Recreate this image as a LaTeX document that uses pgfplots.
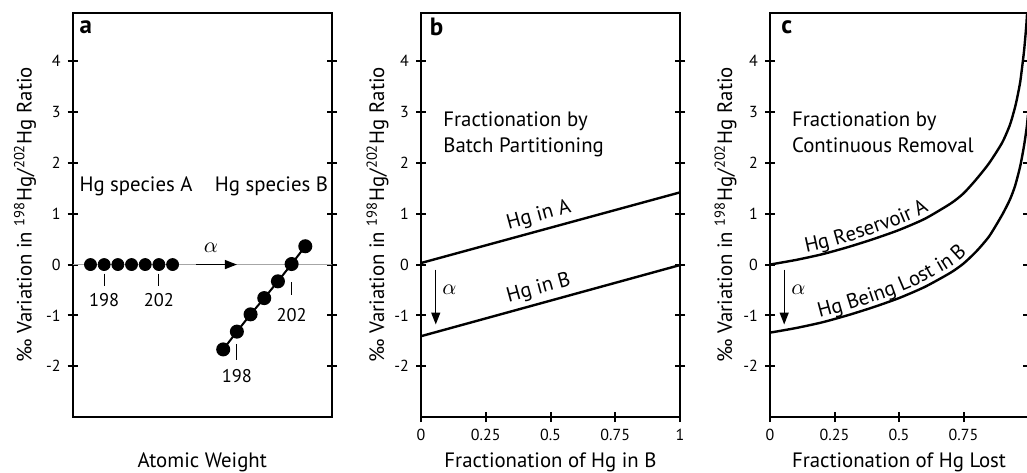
\documentclass[border=0pt]{standalone}
\usepackage{pgfplots}
\pgfplotsset{compat=1.18}
\usepackage{fontspec}
\setmainfont{PT Sans}
\usetikzlibrary{arrows.meta,decorations.text}

\newcommand{\lblfont}{\fontsize{10.4}{12}\selectfont}
\newcommand{\numfont}{\fontsize{9.2}{10}\selectfont}

\pgfplotsset{
  panel/.style={
    scale only axis, width=129.5pt, height=202pt, anchor=south west,
    ymin=-3, ymax=4.95, ytick={-2,-1,0,1,2,3,4}, yticklabel pos=left,
    tick align=center, major tick length=5pt,
    tick style={black, line width=1pt},
    axis line style={line width=1pt},
    tick label style={font=\fontsize{8}{9}\selectfont},
    label style={font=\lblfont},
    /pgf/number format/assume math mode=true,
    xlabel style={at={(axis description cs:0.5,-0.111)}, anchor=center},
    ylabel={‰ Variation in \textsuperscript{198}Hg/\textsuperscript{202}Hg Ratio},
  },
  frac/.style={
    xmin=0, xmax=1, xtick={0,0.25,0.5,0.75,1},
    xticklabels={0,0.25,0.5,0.75,1}, xtick pos=lower,
  },
}

\begin{document}
\begin{tikzpicture}
\path[use as bounding box] (0,0) rectangle (513.5pt,236pt);
\clip (0,0) rectangle (513.5pt,236pt);

% a
\begin{axis}[panel, at={(36.35pt,27.5pt)},
  xmin=0, xmax=18.93, xtick=\empty,
  xlabel={Atomic Weight},
  ylabel style={at={(axis description cs:-0.184,0.5)}, anchor=center}]
\addplot[gray!70, line width=0.5pt] coordinates {(0,0) (18.93,0)};
\addplot[only marks, mark=*, mark size=3pt, black] coordinates {
  (1.3,0) (2.3,0) (3.3,0) (4.3,0) (5.3,0) (6.3,0) (7.3,0)};
\addplot[black, line width=1pt, mark=*, mark size=3pt] coordinates {
  (11,-1.67) (12,-1.32) (13,-0.98) (14,-0.66) (15,-0.33) (16,0.01) (17,0.36)};
\draw[line width=0.6pt] (2.3,-0.18) -- (2.3,-0.43);
\draw[line width=0.6pt] (6.3,-0.18) -- (6.3,-0.43);
\draw[line width=0.6pt] (12,-1.56) -- (12,-1.87);
\draw[line width=0.6pt] (16,-0.35) -- (16,-0.59);
\node[font=\numfont] at (2.3,-0.69) {198};
\node[font=\numfont] at (6.3,-0.69) {202};
\node[font=\numfont] at (12,-2.19) {198};
\node[font=\numfont] at (16,-1.0) {202};
\draw[-{Triangle[length=6pt,width=4.5pt]}, line width=0.7pt] (9.0,0) -- (12.0,0);
\node at (10.1,0.33) {\fontsize{11}{12}\selectfont$\alpha$};
\node[font=\lblfont] at (4.63,1.54) {Hg species A};
\node[font=\lblfont] at (14.53,1.54) {Hg species B};
\node[font=\fontsize{12.5}{14}\selectfont\bfseries] at (rel axis cs:0.051,0.965) {a};
\end{axis}

% b
\begin{axis}[panel, frac, at={(210.5pt,27.5pt)},
  xlabel={Fractionation of Hg in B},
  ylabel style={at={(axis description cs:-0.168,0.5)}, anchor=center}]
\addplot[black, line width=1.2pt] coordinates {(0,0.03) (1,1.42)}
  node[pos=0.47, sloped, above, inner sep=2pt, font=\lblfont] {Hg in A};
\addplot[black, line width=1.2pt] coordinates {(0,-1.41) (1,-0.01)}
  node[pos=0.47, sloped, above, inner sep=2pt, font=\lblfont] {Hg in B};
\draw[-{Triangle[length=6pt,width=4.5pt]}, line width=0.7pt] (0.057,-0.1) -- (0.057,-1.18);
\node at (0.11,-0.49) {\fontsize{11}{12}\selectfont$\alpha$};
\node[anchor=north west, inner sep=0pt, align=left, font=\fontsize{10.4}{13}\selectfont]
  at (0.085,3.01) {Fractionation by\\Batch Partitioning};
\node[font=\fontsize{12.5}{14}\selectfont\bfseries] at (rel axis cs:0.06,0.965) {b};
\end{axis}

% c
\begin{axis}[panel, frac, at={(385pt,27.5pt)}, width=129pt,
  xticklabels={0,0.25,0.5,0.75,{}},
  xlabel={Fractionation of Hg Lost},
  ylabel style={at={(axis description cs:-0.172,0.5)}, anchor=center}]
\addplot[black, line width=1.2pt, smooth, tension=0.4] coordinates {
  (0,0) (0.1,0.09) (0.2,0.20) (0.3,0.34) (0.4,0.50) (0.5,0.68) (0.6,0.90)
  (0.7,1.20) (0.75,1.40) (0.8,1.68) (0.85,2.00) (0.9,2.40) (0.93,2.75)
  (0.95,3.10) (0.96,3.33) (0.97,3.60) (0.98,4.00) (0.985,4.22) (0.99,4.50)
  (0.994,4.75) (0.997,5.0)};
\addplot[black, line width=1.2pt, smooth, tension=0.4] coordinates {
  (0,-1.34) (0.1,-1.25) (0.2,-1.14) (0.3,-1.00) (0.4,-0.84) (0.5,-0.66)
  (0.6,-0.44) (0.7,-0.16) (0.75,0.02) (0.8,0.26) (0.85,0.56) (0.9,0.98)
  (0.93,1.28) (0.95,1.55) (0.97,1.94) (0.985,2.35) (0.995,2.7) (1.0,2.95)};
% curve labels set along the early part of each curve
\addplot[draw=none, smooth, tension=0.4,
  postaction={decorate}, decoration={text along path, raise=2.5pt,
  text={|\lblfont|Hg Reservoir A}, text align={left indent=19pt}}]
  coordinates {
  (0,0) (0.1,0.09) (0.2,0.20) (0.3,0.34) (0.4,0.50) (0.5,0.68) (0.6,0.90)
  (0.7,1.20) (0.75,1.40) (0.8,1.68) (0.85,2.00) (0.9,2.40)};
\addplot[draw=none, smooth, tension=0.4,
  postaction={decorate}, decoration={text along path, raise=2.5pt,
  text={|\lblfont|Hg Being Lost in B}, text align={left indent=26pt}}]
  coordinates {
  (0,-1.34) (0.1,-1.25) (0.2,-1.14) (0.3,-1.00) (0.4,-0.84) (0.5,-0.66)
  (0.6,-0.44) (0.7,-0.16) (0.75,0.02) (0.8,0.26) (0.85,0.56) (0.9,0.98)};
\draw[-{Triangle[length=6pt,width=4.5pt]}, line width=0.7pt] (0.055,-0.1) -- (0.055,-1.18);
\node at (0.11,-0.49) {\fontsize{11}{12}\selectfont$\alpha$};
\node[anchor=north west, inner sep=0pt, align=left, font=\fontsize{10.4}{13}\selectfont]
  at (0.084,3.01) {Fractionation by\\Continuous Removal};
\node[font=\fontsize{12.5}{14}\selectfont\bfseries] at (rel axis cs:0.065,0.965) {c};
\end{axis}
\end{tikzpicture}
\end{document}
